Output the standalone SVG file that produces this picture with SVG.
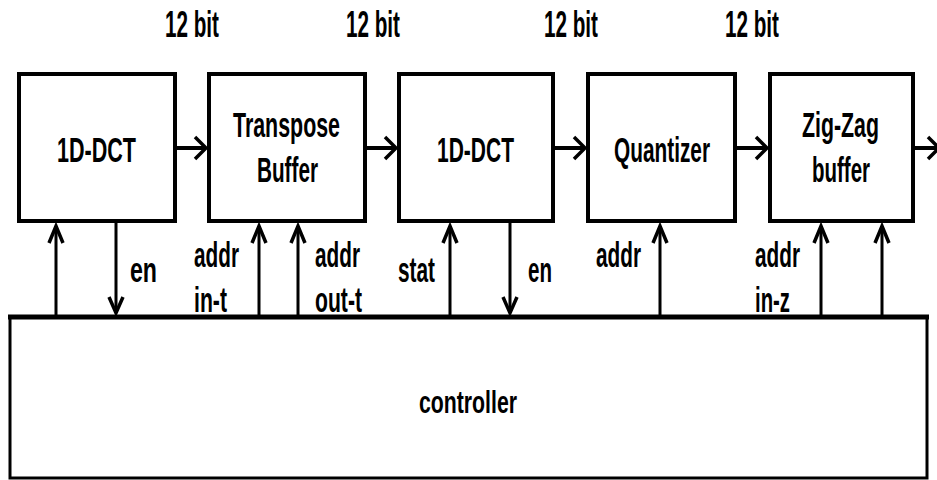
<svg xmlns="http://www.w3.org/2000/svg" width="937" height="480" viewBox="0 0 937 480">
<style>
.box{fill:#fff;stroke:#000;stroke-width:4}
.t{font-family:"Liberation Sans",Arial,sans-serif;font-weight:bold;fill:#000}
.big{font-size:35px}
.lbl{font-size:35px}
.w{font-size:36px}
.ln{stroke:#000;stroke-width:3;fill:none}
.hl{stroke:#000;stroke-width:4;fill:none}
.hd{stroke:#000;stroke-width:3.5;fill:none;stroke-linejoin:miter}
</style>
<rect width="937" height="480" fill="#fff"/>
<g id="labels-bits">
<text class="t w" x="165" y="37" textLength="54" lengthAdjust="spacingAndGlyphs">12 bit</text>
<text class="t w" x="346" y="37" textLength="54" lengthAdjust="spacingAndGlyphs">12 bit</text>
<text class="t w" x="544" y="37" textLength="54" lengthAdjust="spacingAndGlyphs">12 bit</text>
<text class="t w" x="725" y="37" textLength="54" lengthAdjust="spacingAndGlyphs">12 bit</text>
</g>
<g id="dct1">
<rect class="box" x="19" y="74" width="156" height="147"/>
<text class="t big" x="57" y="162" textLength="79" lengthAdjust="spacingAndGlyphs">1D-DCT</text>
</g>
<g id="transpose">
<rect class="box" x="209" y="74" width="156" height="147"/>
<text class="t big" x="233" y="137" textLength="107" lengthAdjust="spacingAndGlyphs">Transpose</text>
<text class="t big" x="257" y="182" textLength="61" lengthAdjust="spacingAndGlyphs">Buffer</text>
</g>
<g id="dct2">
<rect class="box" x="399" y="74" width="154" height="147"/>
<text class="t big" x="437" y="162" textLength="77" lengthAdjust="spacingAndGlyphs">1D-DCT</text>
</g>
<g id="quantizer">
<rect class="box" x="588" y="74" width="147" height="147"/>
<text class="t big" x="614" y="162" textLength="96" lengthAdjust="spacingAndGlyphs">Quantizer</text>
</g>
<g id="zigzag">
<rect class="box" x="770" y="74" width="143" height="147"/>
<text class="t big" x="802" y="137" textLength="77" lengthAdjust="spacingAndGlyphs">Zig-Zag</text>
<text class="t big" x="812" y="182" textLength="58" lengthAdjust="spacingAndGlyphs">buffer</text>
</g>
<g id="controller">
<rect x="10" y="317" width="917" height="161" fill="#fff" stroke="#000" stroke-width="3"/>
<line x1="8" y1="317" x2="929" y2="317" stroke="#000" stroke-width="5"/>
<text class="t" font-size="32" x="419" y="413" textLength="98" lengthAdjust="spacingAndGlyphs">controller</text>
</g>
<g id="connectors">
<path class="hl" d="M177 148H205M367 148H395M555 148H584M737 148H766M915 148H937"/>
<path class="hd" d="M195 137L206 148L195 159M385 137L396 148L385 159M574 137L585 148L574 159M756 137L767 148L756 159M928 137L939 148L928 159"/>
<path class="ln" d="M56 315V226M259 315V226M298 315V226M450 315V226M660 315V226M821 315V226M882 315V226"/>
<path class="hd" d="M49 243L56 226L63 243M252 243L259 226L266 243M291 243L298 226L305 243M443 243L450 226L457 243M653 243L660 226L667 243M814 243L821 226L828 243M875 243L882 226L889 243"/>
<path class="ln" d="M116 223V312M510 223V312"/>
<path class="hd" d="M109 297L116 313L123 297M503 297L510 313L517 297"/>
</g>
<g id="signal-labels">
<text class="t lbl" x="130" y="282" textLength="27" lengthAdjust="spacingAndGlyphs">en</text>
<text class="t lbl" x="194" y="267" textLength="45" lengthAdjust="spacingAndGlyphs">addr</text>
<text class="t lbl" x="194" y="312" textLength="33" lengthAdjust="spacingAndGlyphs">in-t</text>
<text class="t lbl" x="315" y="267" textLength="45" lengthAdjust="spacingAndGlyphs">addr</text>
<text class="t lbl" x="315" y="312" textLength="47" lengthAdjust="spacingAndGlyphs">out-t</text>
<text class="t lbl" x="398" y="282" textLength="37" lengthAdjust="spacingAndGlyphs">stat</text>
<text class="t lbl" x="528" y="282" textLength="24" lengthAdjust="spacingAndGlyphs">en</text>
<text class="t lbl" x="596" y="267" textLength="45" lengthAdjust="spacingAndGlyphs">addr</text>
<text class="t lbl" x="755" y="267" textLength="45" lengthAdjust="spacingAndGlyphs">addr</text>
<text class="t lbl" x="755" y="312" textLength="35" lengthAdjust="spacingAndGlyphs">in-z</text>
</g>
</svg>
